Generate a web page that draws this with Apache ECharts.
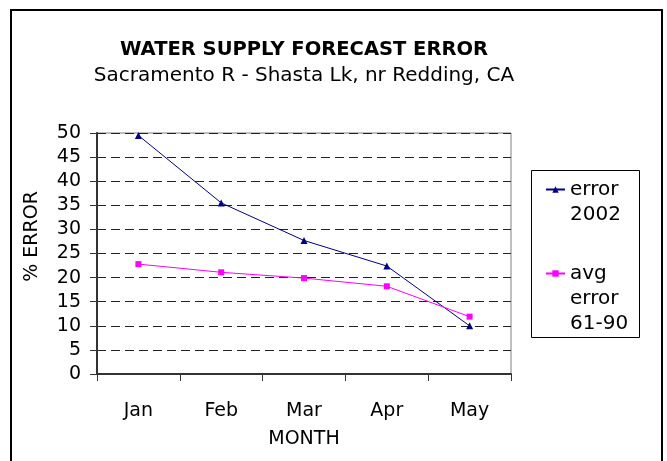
<!DOCTYPE html>
<html>
<head>
<meta charset="utf-8">
<script src="https://cdn.jsdelivr.net/npm/echarts@6/dist/echarts.min.js"></script>
<style>
html,body{margin:0;padding:0;background:#fff;}
#chart{width:667px;height:461px;}
</style>
</head>
<body>
<div id="chart"></div>
<script>
var months = ['Jan', 'Feb', 'Mar', 'Apr', 'May'];
var error2002 = [49.5, 35.5, 27.7, 22.4, 10.0];
var avgError6190 = [22.8, 21.1, 19.9, 18.2, 11.9];
var seriesNames = ['error\n2002', 'avg\nerror\n61-90'];
var titleText = 'WATER SUPPLY FORECAST ERROR';
var subtitleText = 'Sacramento R - Shasta Lk, nr Redding, CA';

var FONT = 'DejaVu Sans';
// legend text: pad with leading blank lines so the icon sits on the first line
function legendLabel(name) {
  var n = name.split('\n').length;
  var pad = '';
  for (var i = 1; i < n; i++) pad += ' \n';
  return pad + name;
}
var chart = echarts.init(document.getElementById('chart'), null, {renderer: 'canvas'});
chart.setOption({
  backgroundColor: '#ffffff',
  animation: false,
  graphic: [{
    type: 'rect', z: -10,
    shape: {x: 11, y: 10, width: 651, height: 460},
    style: {fill: '#ffffff', stroke: '#000000', lineWidth: 2}
  }, {
    type: 'rect', z: -5,
    shape: {x: 531.5, y: 170.5, width: 108, height: 167},
    style: {fill: '#ffffff', stroke: '#000000', lineWidth: 1}
  }],
  title: {
    text: titleText,
    subtext: subtitleText,
    left: 299, textAlign: 'center', top: 35, itemGap: 6,
    textStyle: {fontFamily: FONT, fontSize: 19.5, fontWeight: 'bold', color: '#000'},
    subtextStyle: {fontFamily: FONT, fontSize: 20, color: '#000'}
  },
  legend: {
    orient: 'vertical',
    left: 545, top: 152,
    padding: 0,
    itemGap: -16,
    itemWidth: 19, itemHeight: 8,
    formatter: legendLabel,
    textStyle: {fontFamily: FONT, fontSize: 20, color: '#000', lineHeight: 25},
    data: seriesNames
  },
  grid: {
    left: 97, right: 156, top: 133, bottom: 87,
    show: true, borderColor: '#808080', borderWidth: 1, backgroundColor: 'transparent'
  },
  xAxis: {
    type: 'category',
    data: months,
    boundaryGap: true,
    name: 'MONTH', nameLocation: 'middle', nameGap: 56,
    nameTextStyle: {fontFamily: FONT, fontSize: 19, color: '#000'},
    axisLine: {lineStyle: {color: '#333', width: 2}},
    axisTick: {show: true, length: 7, lineStyle: {color: '#333', width: 1}},
    axisLabel: {fontFamily: FONT, fontSize: 19, color: '#000', margin: 28},
    splitLine: {show: false}
  },
  yAxis: {
    type: 'value',
    min: 0, max: 50, interval: 5,
    name: '% ERROR', nameLocation: 'middle', nameGap: 55,
    nameTextStyle: {fontFamily: FONT, fontSize: 19, color: '#000', padding: [0, 0, 0, 34]},
    axisLine: {show: true, lineStyle: {color: '#333', width: 2}},
    axisTick: {show: true, length: 7, lineStyle: {color: '#333', width: 1}},
    axisLabel: {fontFamily: FONT, fontSize: 19, color: '#000', margin: 16},
    splitLine: {show: true, lineStyle: {color: '#222', width: 1, type: [9, 5]}}
  },
  series: [
    {
      name: seriesNames[0], type: 'line', data: error2002,
      symbol: 'triangle', symbolSize: 7,
      lineStyle: {color: '#000080', width: 1},
      itemStyle: {color: '#000080'}
    },
    {
      name: seriesNames[1], type: 'line', data: avgError6190,
      symbol: 'rect', symbolSize: 6,
      lineStyle: {color: '#ff00ff', width: 1},
      itemStyle: {color: '#ff00ff'}
    }
  ]
});
</script>
</body>
</html>
